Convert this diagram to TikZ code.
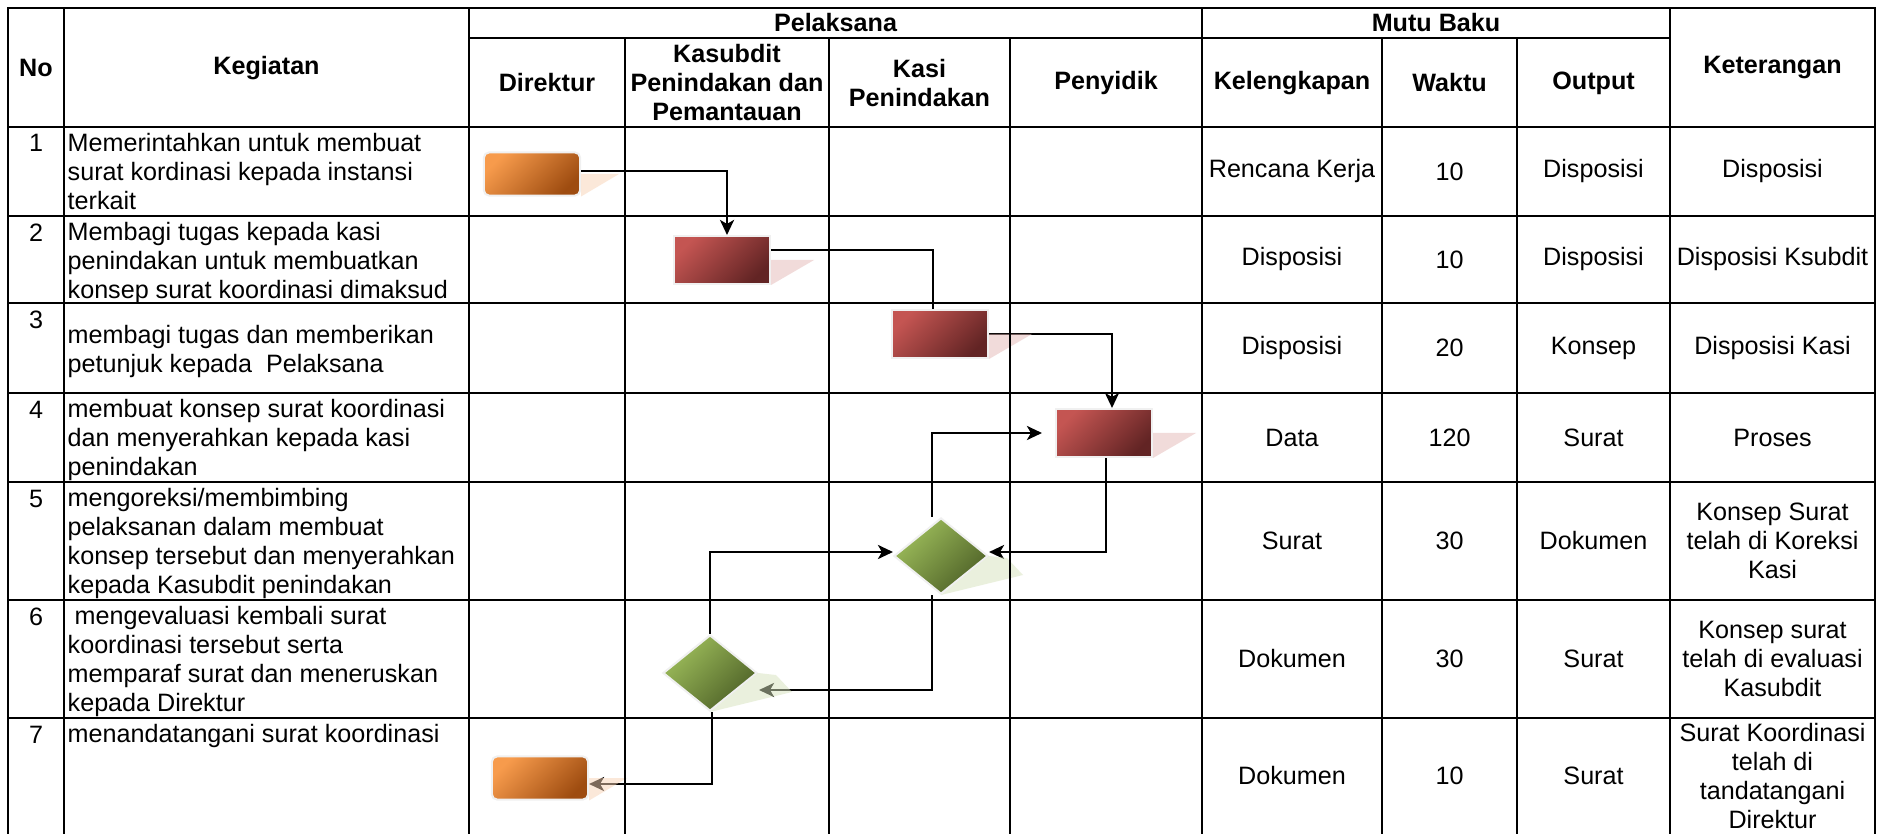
\documentclass[tikz,border=0pt]{standalone}
\usepackage{fontspec}
\setmainfont{Liberation Sans}
\usetikzlibrary{arrows.meta,shapes.geometric,calc}
\definecolor{orgLight}{HTML}{F79B4C}
\definecolor{orgDark}{HTML}{9E4C10}
\definecolor{redLight}{HTML}{C45552}
\definecolor{redDark}{HTML}{622424}
\definecolor{grnLight}{HTML}{9DBD5B}
\definecolor{grnDark}{HTML}{4E6127}
\definecolor{orgShade}{HTML}{F9D3B5}
\definecolor{redShade}{HTML}{E5B9B7}
\definecolor{grnShade}{HTML}{D7E3BD}
\definecolor{glow}{HTML}{F0F0F0}
\tikzset{
  cell/.style={font=\fontsize{7.15pt}{8.25pt}\selectfont, inner sep=0pt, align=center},
  headcell/.style={cell, font=\fontsize{7.15pt}{8.25pt}\selectfont\bfseries},
  actcell/.style={cell, align=left, anchor=north west},
  numcell/.style={cell, anchor=north},
  gridline/.style={line width=0.8pt, line cap=rect},
  termbox/.style={rectangle, rounded corners=0.05cm, minimum width=0.96cm,
    minimum height=0.43cm, draw=glow, line width=0.02cm,
    top color=orgLight, bottom color=orgDark, shading angle=45},
  procbox/.style={rectangle, minimum width=0.96cm, minimum height=0.48cm,
    draw=glow, line width=0.02cm,
    top color=redLight, bottom color=redDark, shading angle=45},
  decbox/.style={diamond, minimum width=0.94cm, minimum height=0.76cm,
    inner sep=0pt, draw=glow, line width=0.02cm,
    top color=grnLight, bottom color=grnDark, shading angle=45},
  conn/.style={line width=0.8pt},
  arr/.style={conn, -{Stealth[length=1.5mm, width=1.4mm, inset=0.4mm]}},
  castshadow/.style={fill opacity=0.5}
}

\begin{document}
\begin{tikzpicture}[x=0.01cm, y=-0.01cm]
  \fill[white] (0,0) rectangle (1886,834);
  \useasboundingbox (0,0) rectangle (1886,834);

  % header
  \node[headcell] (hNo) at (36,68) {No};
  \node[headcell] (hKeg) at (266.5,68) {Kegiatan};
  \node[headcell] (hPel) at (835.5,23) {Pelaksana};
  \node[headcell] (hMutu) at (1436,23) {Mutu Baku};
  \node[headcell] (hKet) at (1772.5,68) {Keterangan};
  \node[headcell] (hDir) at (547,83) {Direktur};
  \node[headcell] (hKsb) at (727,83) {Kasubdit\\Penindakan dan\\Pemantauan};
  \node[headcell] (hKasi) at (919.5,83) {Kasi\\Penindakan};
  \node[headcell] (hPny) at (1106,83) {Penyidik};
  \node[headcell] (hKel) at (1292,83) {Kelengkapan};
  \node[headcell] (hWkt) at (1449.5,83) {Waktu};
  \node[headcell] (hOut) at (1593.5,83) {Output};

  % nomor dan kegiatan
  \foreach \i/\y in {1/134,2/223,3/310,4/400,5/489,6/607,7/725}
    \node[numcell] (n\i) at (36,\y) {\i};
  \node[actcell] (k1) at (67,133) {Memerintahkan untuk membuat\\surat kordinasi kepada instansi\\terkait};
  \node[actcell] (k2) at (67,222) {Membagi tugas kepada kasi\\penindakan untuk membuatkan\\konsep surat koordinasi dimaksud};
  \node[actcell] (k3) at (67,325) {membagi tugas dan memberikan\\petunjuk kepada \ Pelaksana};
  \node[actcell] (k4) at (67,399) {membuat konsep surat koordinasi\\dan menyerahkan kepada kasi\\penindakan};
  \node[actcell] (k5) at (67,488) {mengoreksi/membimbing\\pelaksanan dalam membuat\\konsep tersebut dan menyerahkan\\kepada Kasubdit penindakan};
  \node[actcell] (k6) at (67,606) {\ mengevaluasi kembali surat\\koordinasi tersebut serta\\memparaf surat dan meneruskan\\kepada Direktur};
  \node[actcell] (k7) at (67,724) {menandatangani surat koordinasi};

  % mutu baku dan keterangan
  \foreach \r/\y/\kel/\wak/\out/\ket in {
      1/171.5/Rencana Kerja/10/Disposisi/Disposisi,
      2/259.5/Disposisi/10/Disposisi/Disposisi Ksubdit,
      3/348/Disposisi/20/Konsep/Disposisi Kasi,
      4/437.5/Data/120/Surat/Proses,
      5/541/Surat/30/Dokumen/{Konsep Surat\\telah di Koreksi\\Kasi},
      6/659/Dokumen/30/Surat/{Konsep surat\\telah di evaluasi\\Kasubdit},
      7/776/Dokumen/10/Surat/{Surat Koordinasi\\telah di\\tandatangani\\Direktur}} {
    \node[cell] (kel\r) at (1292,\y) {\kel};
    \node[cell] (wak\r) at (1449.5,\y) {\wak};
    \node[cell] (out\r) at (1593.5,\y) {\out};
    \node[cell] (ket\r) at (1772.5,\y) {\ket};
  }

  % simbol alur
  \node[termbox] (o1) at (532,174) {};
  \node[procbox] (r1) at (722,260) {};
  \node[procbox] (r2) at (940,334) {};
  \node[procbox] (r3) at (1104,433) {};
  \node[decbox] (d1) at (941,556) {};
  \node[decbox] (d2) at (710,673) {};
  \node[termbox] (o2) at (540,778) {};
  \coordinate (d2tip) at ([shift={(49,17)}]d2.center);

  % penghubung
  \draw[arr] ([yshift=0.03cm]o1.east) -| ([xshift=0.05cm]r1.north);
  \draw[conn] ([yshift=0.1cm]r1.east) -| ([xshift=-0.07cm]r2.north);
  \draw[arr] (r2.east) -| ([xshift=0.08cm]r3.north);
  \draw[arr, shorten >=0.13cm] ([xshift=-0.09cm]d1.north) |- (r3.west);
  \draw[arr] ([xshift=0.02cm]r3.south) |- ([yshift=0.04cm]d1.east);
  \draw[arr] (d2.north) |- ([yshift=0.04cm]d1.west);
  \draw[arr] ([xshift=-0.09cm]d1.south) |- (d2tip);
  \draw[arr] ([xshift=0.02cm]d2.south) |- ([yshift=-0.06cm]o2.east);

  % bayangan
  \fill[castshadow, orgShade] (o1.east) -- ([xshift=0.38cm]o1.east) -- (o1.south east) -- cycle;
  \fill[castshadow, orgShade] (o2.east) -- ([xshift=0.38cm]o2.east) -- (o2.south east) -- cycle;
  \foreach \b in {r1,r2,r3}
    \fill[castshadow, redShade] (\b.east) -- ([xshift=0.43cm]\b.east) -- (\b.south east) -- cycle;
  \foreach \b in {d1,d2}
    \fill[castshadow, grnShade] (\b.south) -- ([shift={(82,19)}]\b.center)
      -- ([shift={(66,2)}]\b.center) -- (\b.east) -- cycle;

  % garis tabel
  \foreach \x in {8,64,469,1202,1670,1875}
    \draw[gridline] (\x,8) -- (\x,834);
  \foreach \x in {625,829,1010,1382,1517}
    \draw[gridline] (\x,38) -- (\x,834);
  \foreach \y in {8,127,216,303,393,482,600,718}
    \draw[gridline] (8,\y) -- (1875,\y);
  \draw[gridline] (469,38) -- (1670,38);
\end{tikzpicture}
\end{document}
